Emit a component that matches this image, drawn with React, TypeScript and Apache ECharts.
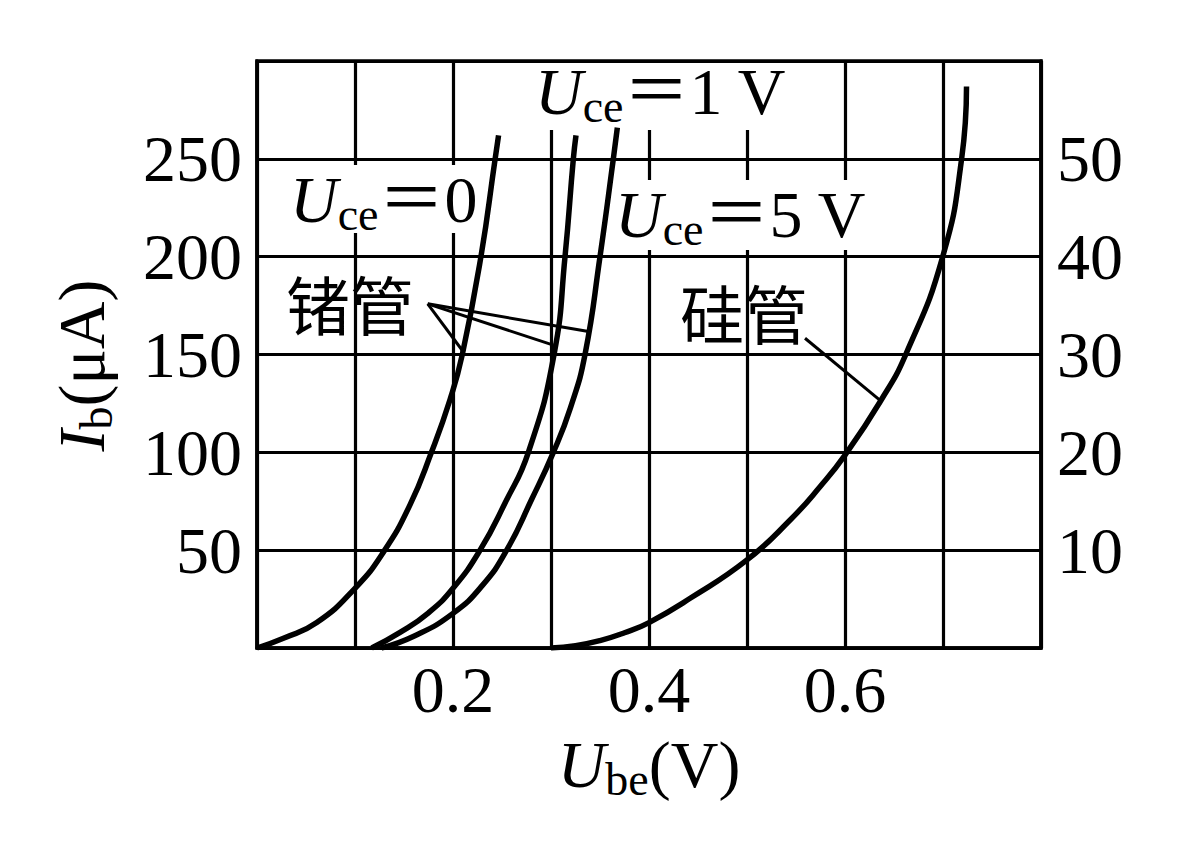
import React, { useEffect, useRef } from "react";
import * as echarts from "echarts";

const SERIF = "'Liberation Serif', 'Times New Roman', serif";
const CJK = "'Noto Sans CJK SC', 'Noto Sans CJK JP', sans-serif";
const MIXED = "'Liberation Serif', 'Noto Sans CJK SC', serif";

// x axis: Ube (V)
const xMin = 0;
const xMax = 0.8;
const xStep = 0.1;
const xTickLabels = [0.2, 0.4, 0.6];
// left y axis: Ib (μA) for germanium
const yLeftMax = 300;
const yLeftStep = 50;
const yLeftTickLabels = [50, 100, 150, 200, 250];
// right y axis: silicon
const yRightMax = 60;
const yRightStep = 10;
const yRightTickLabels = [10, 20, 30, 40, 50];

// Germanium, Uce = 0
const geUce0Ube = [0, 0.027, 0.061, 0.1, 0.129, 0.156, 0.178, 0.197, 0.2095, 0.2285, 0.243, 0.2465];
const geUce0Ib = [0, 5, 13, 30.5, 49, 73, 100, 127, 150, 200, 250, 262];
// Germanium, Uce = 1 V
const geUce1Ube = [0.117, 0.146, 0.175, 0.2, 0.2276, 0.253, 0.2769, 0.3031, 0.3143, 0.3228, 0.3255];
const geUce1Ib = [0, 8, 18, 30.5, 50, 74, 100, 150, 200, 250, 262];
// Germanium, Uce = 5 V
const geUce5Ube = [0.127, 0.16, 0.2, 0.23, 0.2548, 0.2803, 0.3024, 0.32, 0.3347, 0.35, 0.3636, 0.3677];
const geUce5Ib = [0, 6, 17.7, 32, 50, 76, 100, 123, 150, 200, 250, 266];
// Silicon (right axis)
const siUbe = [0.3, 0.325, 0.35, 0.375, 0.4, 0.442, 0.5, 0.544, 0.5745, 0.6, 0.636, 0.662, 0.6997, 0.719, 0.724];
const siIb = [0, 0.24, 0.76, 1.56, 2.6, 5.08, 9, 13.08, 16.48, 19.72, 25.2, 30, 40, 50, 57.4];

// pointer anchors (data coords, left axis)
const geApex = [0.1742, 175.9];
const geTargets = [
  [0.2105, 151.4],
  [0.3024, 154.8],
  [0.3398, 161.6],
];
const siFrom = [0.5592, 158.3];
const siTo = [0.6374, 125.9];

const zip = (xs: number[], ys: number[]) => xs.map((x, i) => [x, ys[i]]);

const subRich = (lh: number) => ({
  u: { fontFamily: SERIF, fontStyle: "italic", fontSize: 66, lineHeight: lh, color: "#000" },
  s: { fontFamily: SERIF, fontSize: 46, lineHeight: lh, padding: [30, 0, 0, 0], color: "#000" },
  t: { fontFamily: MIXED, fontSize: 66, lineHeight: lh, color: "#000" },
});

export default function App() {
  const ref = useRef<HTMLDivElement>(null);
  useEffect(() => {
    document.body.style.margin = "0";
    const chart = echarts.init(ref.current!, null, { renderer: "svg" });
    const lineSeries = (name: string, data: number[][], yAxisIndex = 0) => ({
      name,
      type: "line",
      yAxisIndex,
      data,
      showSymbol: false,
      smooth: 0.5,
      z: 2,
      lineStyle: { color: "#000", width: 5.5, join: "round" },
    });
    const axisLabelBase = { fontFamily: SERIF, fontSize: 66, color: "#000" };
    chart.setOption({
      animation: false,
      backgroundColor: "#fff",
      grid: {
        left: 257,
        right: 140,
        top: 61,
        bottom: 202,
        show: true,
        borderColor: "#000",
        borderWidth: 3.5,
        backgroundColor: "transparent",
      },
      xAxis: {
        type: "value",
        min: xMin,
        max: xMax,
        interval: xStep,
        name: "{u|U}{s|be}{t|(V)}",
        nameLocation: "middle",
        nameGap: 99,
        nameTextStyle: { verticalAlign: "middle", rich: subRich(70) },
        axisLine: { lineStyle: { color: "#000", width: 3.5 } },
        axisTick: { show: false },
        axisLabel: {
          ...axisLabelBase,
          margin: 8,
          formatter: (v: number) => {
            const r = Math.round(v * 10) / 10;
            return xTickLabels.some((t) => Math.abs(t - r) < 1e-6) ? r.toFixed(1) : "";
          },
        },
        splitLine: { show: true, lineStyle: { color: "#000", width: 3.2 } },
      },
      yAxis: [
        {
          type: "value",
          min: 0,
          max: yLeftMax,
          interval: yLeftStep,
          position: "left",
          name: "{u|I}{s|b}{t|(μA)}",
          nameLocation: "middle",
          nameGap: 176,
          nameTextStyle: { verticalAlign: "middle", rich: subRich(70), padding: [0, 22, 0, 0] },
          axisLine: { show: true, lineStyle: { color: "#000", width: 3.5 } },
          axisTick: { show: false },
          axisLabel: {
            ...axisLabelBase,
            margin: 15,
            formatter: (v: number) => (yLeftTickLabels.includes(Math.round(v)) ? String(Math.round(v)) : ""),
          },
          splitLine: { show: true, lineStyle: { color: "#000", width: 3.2 } },
        },
        {
          type: "value",
          min: 0,
          max: yRightMax,
          interval: yRightStep,
          position: "right",
          axisLine: { show: true, lineStyle: { color: "#000", width: 3.5 } },
          axisTick: { show: false },
          axisLabel: {
            ...axisLabelBase,
            margin: 16,
            formatter: (v: number) => (yRightTickLabels.includes(Math.round(v)) ? String(Math.round(v)) : ""),
          },
          splitLine: { show: false },
        },
      ],
      series: [
        lineSeries("锗管 Uce=0", zip(geUce0Ube, geUce0Ib)),
        lineSeries("锗管 Uce=1V", zip(geUce1Ube, geUce1Ib)),
        lineSeries("锗管 Uce=5V", zip(geUce5Ube, geUce5Ib)),
        lineSeries("硅管", zip(siUbe, siIb), 1),
      ],
    });

    const toPx = (p: number[]) =>
      chart.convertToPixel({ xAxisIndex: 0, yAxisIndex: 0 }, p) as unknown as number[];
    const apex = toPx(geApex);
    const pointerLines = geTargets.map((t) => {
      const e = toPx(t);
      return {
        type: "line",
        z: 10,
        shape: { x1: apex[0], y1: apex[1], x2: e[0], y2: e[1] },
        style: { stroke: "#000", lineWidth: 3 },
      };
    });
    const sf = toPx(siFrom);
    const st = toPx(siTo);
    const box = (x: number, y: number, w: number, h: number) => ({
      type: "rect",
      z: 1,
      shape: { x, y, width: w, height: h },
      style: { fill: "#fff" },
    });
    const uceLabel = (x: number, y: number, tail: string) => ({
      type: "text",
      z: 10,
      x,
      y,
      style: {
        text: `{u|U}{s|ce}{t|＝${tail}}`,
        align: "left",
        verticalAlign: "middle",
        rich: subRich(68),
      },
    });
    const cjkLabel = (x: number, y: number, text: string) => ({
      type: "text",
      z: 10,
      x,
      y,
      style: {
        text,
        fontFamily: CJK,
        fontSize: 64,
        fill: "#000",
        align: "left",
        verticalAlign: "middle",
      },
    });

    chart.setOption({
      graphic: {
        elements: [
          box(290, 165, 186, 68),
          box(540, 63, 246, 67),
          box(620, 180, 246, 70),
          uceLabel(290, 199.7, "0"),
          uceLabel(535, 91, "1 V"),
          uceLabel(615, 214.4, "5 V"),
          cjkLabel(286, 302, "锗管"),
          cjkLabel(680, 310.5, "硅管"),
          ...pointerLines,
          {
            type: "line",
            z: 10,
            shape: { x1: sf[0], y1: sf[1], x2: st[0], y2: st[1] },
            style: { stroke: "#000", lineWidth: 3 },
          },
        ],
      },
    });
    return () => chart.dispose();
  }, []);
  return <div ref={ref} style={{ width: 1181, height: 850 }} />;
}
